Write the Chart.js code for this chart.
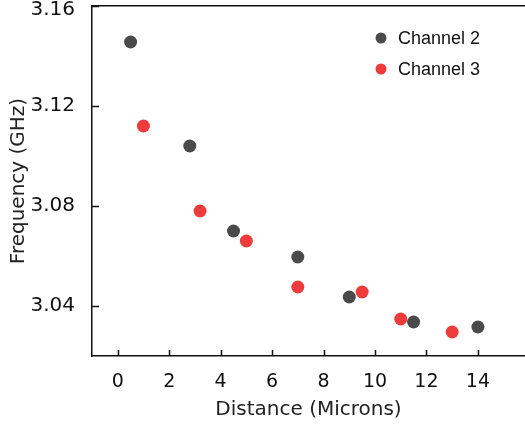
<!DOCTYPE html>
<html>
<head>
<meta charset="utf-8">
<script src="https://cdn.jsdelivr.net/npm/chart.js@4/dist/chart.umd.min.js"></script>
<style>
  html, body { margin: 0; padding: 0; background: #fff; }
  #wrap { width: 525px; height: 425px; }
</style>
</head>
<body>
<div id="wrap"><canvas id="freqChart"></canvas></div>
<script>
// Distance (microns) vs frequency (GHz)
const ch2Distance = [0.5, 2.8, 4.5, 7, 9, 11.5, 14];
const ch2Freq = [3.1456, 3.104, 3.070, 3.0596, 3.0436, 3.0336, 3.0316];
const ch3Distance = [1, 3.2, 5, 7, 9.5, 11, 13];
const ch3Freq = [3.112, 3.078, 3.066, 3.0476, 3.0456, 3.0348, 3.0296];
const yTicks = [3.04, 3.08, 3.12, 3.16];

const toPoints = (xs, ys) => xs.map((x, i) => ({ x: x, y: ys[i] }));

// no label overflow padding, the plot box is fixed
const noPad = s => { s.paddingTop = 0; s.paddingBottom = 0; s.paddingLeft = 0; s.paddingRight = 0; };

// top y label would be cut by the canvas edge, push it down a bit
const nudgeTopLabel = {
    id: 'nudgeTopLabel',
    beforeDraw(chart) {
        const s = chart.scales.y;
        const items = s.getLabelItems(chart.chartArea);
        const top = items[items.length - 1];
        if (top && !top._nudged) {
            top.options.translation[1] += 4;
            top._nudged = true;
        }
    }
};

// short tick marks pointing into the plot
const innerTicks = {
    id: 'innerTicks',
    afterDraw(chart) {
        const ctx = chart.ctx;
        const a = chart.chartArea;
        const xs = chart.scales.x, ys = chart.scales.y;
        ctx.save();
        ctx.strokeStyle = '#111';
        ctx.lineWidth = 1.5;
        ctx.beginPath();
        xs.ticks.forEach(t => {
            const px = Math.round(xs.getPixelForValue(t.value)) + 0.5;
            ctx.moveTo(px, a.bottom);
            ctx.lineTo(px, a.bottom - 6);
        });
        ys.ticks.forEach(t => {
            const py = Math.round(ys.getPixelForValue(t.value)) + 0.5;
            ctx.moveTo(a.left, py);
            ctx.lineTo(a.left + 7, py);
        });
        ctx.stroke();
        ctx.restore();
    }
};

// legend sits inside the plot, top right
const innerLegend = {
    id: 'innerLegend',
    afterDraw(chart) {
        const ctx = chart.ctx;
        const x0 = 381, y0 = 38, gap = 31;
        ctx.save();
        ctx.font = '18px "Liberation Sans", Arial, sans-serif';
        ctx.textBaseline = 'middle';
        chart.data.datasets.forEach((ds, i) => {
            const y = y0 + i * gap;
            ctx.fillStyle = ds.backgroundColor;
            ctx.beginPath();
            ctx.arc(x0, y, 5.5, 0, Math.PI * 2);
            ctx.fill();
            ctx.fillStyle = '#111';
            ctx.fillText(ds.label, x0 + 17, y + 1);
        });
        ctx.restore();
    }
};

const ctx = document.getElementById('freqChart').getContext('2d');
new Chart(ctx, {
    type: 'scatter',
    data: {
        datasets: [
            {
                label: 'Channel 2',
                data: toPoints(ch2Distance, ch2Freq),
                backgroundColor: '#4a4a4a',
                borderWidth: 0,
                pointRadius: 6.5
            },
            {
                label: 'Channel 3',
                data: toPoints(ch3Distance, ch3Freq),
                backgroundColor: '#ee3b3b',
                borderWidth: 0,
                pointRadius: 6.5
            }
        ]
    },
    options: {
        responsive: true,
        maintainAspectRatio: false,
        animation: false,
        layout: { padding: 0, autoPadding: false },
        scales: {
            x: {
                type: 'linear',
                position: 'bottom',
                min: -1,
                max: 15.83,
                afterFit: s => { s.height = 69; noPad(s); },
                ticks: {
                    stepSize: 2,
                    includeBounds: false,
                    padding: 7,
                    color: '#111',
                    font: { family: '"DejaVu Sans"', size: 19 }
                },
                grid: { display: false },
                border: { display: true, color: '#111', width: 1.5 },
                title: {
                    display: true,
                    text: 'Distance (Microns)',
                    color: '#222',
                    padding: { top: 8, bottom: 3 },
                    font: { family: '"DejaVu Sans"', size: 20 }
                }
            },
            xTop: {
                type: 'linear',
                position: 'top',
                min: -1,
                max: 15.83,
                afterFit: s => { s.height = 6; noPad(s); },
                ticks: { display: false },
                grid: { display: false },
                border: { display: true, color: '#111', width: 1.5 }
            },
            y: {
                min: 3.02,
                max: 3.16,
                afterFit: s => { s.width = 92; noPad(s); },
                afterBuildTicks: s => { s.ticks = yTicks.map(v => ({ value: v })); },
                ticks: {
                    padding: 9,
                    color: '#111',
                    font: { family: '"DejaVu Sans"', size: 20 },
                    callback: v => v.toFixed(2)
                },
                grid: { display: false },
                border: { display: true, color: '#111', width: 1.5 },
                title: {
                    display: true,
                    text: 'Frequency (GHz)',
                    color: '#222',
                    padding: { top: 7, bottom: 4 },
                    font: { family: '"DejaVu Sans"', size: 20 }
                }
            }
        },
        plugins: {
            legend: { display: false },
            tooltip: { enabled: false }
        }
    },
    plugins: [nudgeTopLabel, innerTicks, innerLegend]
});
</script>
</body>
</html>
